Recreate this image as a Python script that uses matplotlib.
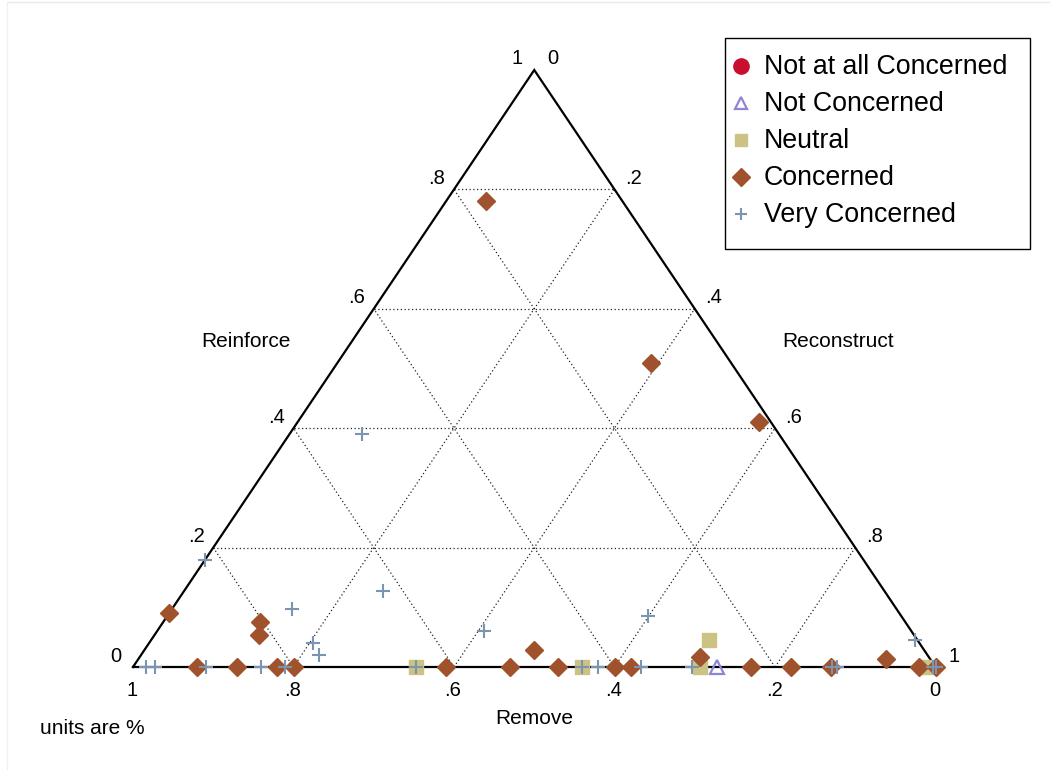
import matplotlib
matplotlib.use("Agg")
import matplotlib.pyplot as plt
import numpy as np

plt.rcParams['font.family'] = ['Liberation Sans', 'DejaVu Sans']

# Ternary components per respondent group: (Reinforce, Reconstruct); Remove = 1 - both
not_at_all_reinf = []
not_at_all_recon = []

not_conc_reinf = [0.0]
not_conc_recon = [0.728]

neutral_reinf = [0.0, 0.0, 0.0, 0.0, 0.046]
neutral_recon = [0.353, 0.559, 0.707, 0.99, 0.695]

concerned_reinf = [0.09, 0.076, 0.054, 0.0, 0.0, 0.0, 0.0,
                   0.0, 0.0, 0.0, 0.0, 0.0, 0.0, 0.0, 0.0, 0.0, 0.0,
                   0.029, 0.016, 0.013, 0.78, 0.51, 0.41]
concerned_recon = [0.0, 0.12, 0.13, 0.08, 0.13, 0.18, 0.20,
                   0.39, 0.47, 0.53, 0.60, 0.62, 0.77, 0.82, 0.87, 0.98, 1.0,
                   0.485, 0.699, 0.932, 0.05, 0.39, 0.575]

very_reinf = [0.18, 0.39, 0.097, 0.128, 0.041, 0.020, 0.061, 0.085, 0.046,
              0.0, 0.0, 0.0, 0.0, 0.0, 0.0, 0.0, 0.0, 0.0, 0.0, 0.0, 0.0, 0.0, 0.0]
very_recon = [0.0, 0.09, 0.15, 0.248, 0.204, 0.222, 0.407, 0.599, 0.951,
              0.016, 0.027, 0.091, 0.160, 0.189, 0.353, 0.559, 0.580, 0.633, 0.696,
              0.871, 0.877, 0.997, 1.0]

ticks = [0.0, 0.2, 0.4, 0.6, 0.8, 1.0]
tick_text = ['0', '.2', '.4', '.6', '.8', '1']

group_labels = ['Not at all Concerned', 'Not Concerned', 'Neutral', 'Concerned', 'Very Concerned']


def project(reinforce, reconstruct):
    r = np.asarray(reinforce, dtype=float)
    c = np.asarray(reconstruct, dtype=float)
    return c + r / 2.0, r


W, H = 1050, 770
fig = plt.figure(figsize=(W / 100, H / 100), dpi=100)

# overlay in pixel units for frame and legend
ov = fig.add_axes([0, 0, 1, 1], zorder=5)
ov.set_xlim(0, W)
ov.set_ylim(H, 0)
ov.axis('off')
ov.patch.set_alpha(0)

ax = fig.add_axes([0, 0, 1, 1])
x0, y0, sx, sy = 133.0, 667.0, 802.5, 597.0
ax.set_xlim(-x0 / sx, (W - x0) / sx)
ax.set_ylim(-(H - y0) / sy, y0 / sy)
ax.axis('off')

# faint outer frame (top and left)
ov.plot([7, W], [2, 2], color='#e4ecec', lw=1.0)
ov.plot([7, 7], [2, H], color='#eef2f2', lw=1.0)

# dotted grid
grid_kw = dict(ls=(0, (1, 2)), color='#222222', lw=0.9, zorder=1)
for t in ticks[1:-1]:
    xa, ya = project([t, t], [0, 1 - t])          # constant Reinforce
    ax.plot(xa, ya, **grid_kw)
    xa, ya = project([0, 1 - t], [t, t])          # constant Reconstruct
    ax.plot(xa, ya, **grid_kw)
    xa, ya = project([0, 1 - t], [1 - t, 0])      # constant Remove
    ax.plot(xa, ya, **grid_kw)

# triangle outline
tx, ty = project([0, 0, 1, 0], [0, 1, 0, 0])
ax.plot(tx, ty, color='black', lw=1.6, solid_joinstyle='miter', zorder=2)

# tick labels
tk = dict(fontsize=14.5, color='black')
for t, s in zip(ticks, tick_text):
    bx, by = project(0, 1 - t)
    ax.annotate(s, (bx, by), xytext=(-1, -23), textcoords='offset pixels',
                ha='center', va='center', **tk)
    lx, ly = project(t, 0)
    ax.annotate(s, (lx, ly), xytext=(-17, 11), textcoords='offset pixels',
                ha='center', va='center', **tk)
    rx, ry = project(1 - t, t)
    ax.annotate(s, (rx, ry), xytext=(19, 11), textcoords='offset pixels',
                ha='center', va='center', **tk)

# axis titles
ax.text((246 - x0) / sx, (y0 - 342) / sy, 'Reinforce', ha='center', va='center', fontsize=15)
ax.text((838 - x0) / sx, (y0 - 342) / sy, 'Reconstruct', ha='center', va='center', fontsize=15)
ax.text(0.5, (y0 - 718) / sy, 'Remove', ha='center', va='center', fontsize=15)
ov.text(40, 728, 'units are %', ha='left', va='center', fontsize=15)

# markers
c_red = '#c8102e'
c_tri = '#8f85d6'
c_sq = '#cbc283'
c_dia = '#a0522d'
c_plus = '#7b95b0'

styles = [
    dict(marker='o', color=c_red, ms=10),
    dict(marker='^', mfc='none', mec=c_tri, mew=1.6, ms=9.5),
    dict(marker='s', color=c_sq, ms=9.5),
    dict(marker='D', color=c_dia, ms=9.3),
    dict(marker='+', color=c_plus, mew=1.5, ms=9.5),
]
series = [(not_at_all_reinf, not_at_all_recon), (not_conc_reinf, not_conc_recon),
          (neutral_reinf, neutral_recon), (concerned_reinf, concerned_recon),
          (very_reinf, very_recon)]
for k, ((rr, cc), st) in enumerate(zip(series, styles)):
    x, y = project(rr, cc)
    ax.plot(x, y, ls='none', zorder=3 + k, **st)

# legend box
ov.add_patch(plt.Rectangle((725, 38), 305, 211, fill=True, fc='white', ec='black', lw=1.0))
leg_sizes = [11, 9, 9, 9.5, 9]
for i, (lab, st, ms) in enumerate(zip(group_labels, styles, leg_sizes)):
    yy = 66 + 37 * i
    st = dict(st)
    st['ms'] = ms
    ov.plot([741], [yy], ls='none', **st)
    ov.text(764, yy + 1, lab, ha='left', va='center', fontsize=19.3)

fig.savefig('out.png', dpi=100)
